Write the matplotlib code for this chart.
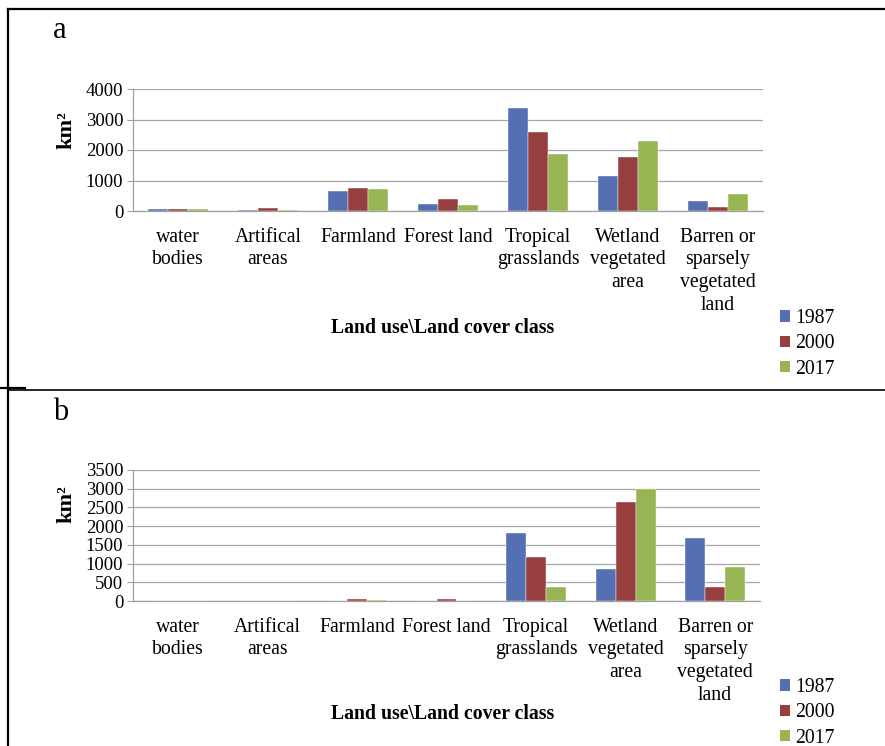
import matplotlib
matplotlib.use("Agg")
import matplotlib.pyplot as plt
import numpy as np
from matplotlib.lines import Line2D
from matplotlib.patches import Patch

categories = ["water\nbodies", "Artifical\nareas", "Farmland", "Forest land",
              "Tropical\ngrasslands", "Wetland\nvegetated\narea",
              "Barren or\nsparsely\nvegetated\nland"]
years = ["1987", "2000", "2017"]

# panel a values (km2)
a_1987 = [50, 45, 655, 230, 3390, 1140, 315]
a_2000 = [50, 100, 745, 405, 2590, 1770, 140]
a_2017 = [50, 45, 710, 200, 1880, 2305, 570]

# panel b values (km2)
b_1987 = [0, 0, 0, 0, 1810, 850, 1690]
b_2000 = [0, 0, 65, 65, 1185, 2635, 385]
b_2017 = [0, 0, 30, 0, 385, 2990, 910]

a_ticks = [0, 1000, 2000, 3000, 4000]
b_ticks = [0, 500, 1000, 1500, 2000, 2500, 3000, 3500]

colors = ["#5470B2", "#963F3E", "#97B553"]

plt.rcParams['font.family'] = ['Liberation Serif', 'DejaVu Serif']

W, H = 885, 746
fig = plt.figure(figsize=(W / 100, H / 100), dpi=100)

def fx(px):
    return px / W

def fy(py):
    return 1 - py / H

FS = 14.2
YFS = 13.5

def draw_panel(left, right, top, bottom, series, ticks, letter, letter_y,
               ylab_y, xlab_y, leg_y):
    ax = fig.add_axes([fx(left), fy(bottom), fx(right - left), fy(top) - fy(bottom)])
    x = np.arange(len(categories))
    bw = 1 / 4.5
    for i, (vals, c, yr) in enumerate(zip(series, colors, years)):
        ax.bar(x + (i - 1) * bw, vals, width=bw, color=c, edgecolor="white",
               linewidth=0.3, zorder=3, label=yr)
    ax.set_xlim(-0.5, len(categories) - 0.5)
    ax.set_ylim(ticks[0], ticks[-1])
    ax.set_yticks(ticks)
    ax.set_yticklabels([str(t) for t in ticks], fontsize=YFS)
    ax.set_xticks(x)
    ax.set_xticklabels(categories, fontsize=FS, linespacing=1.27)
    ax.tick_params(axis="x", length=0, pad=12)
    ax.tick_params(axis="y", length=4, color="#A0A0A0", width=0.8, pad=3)
    ax.grid(axis="y", color="#A6A6A6", linewidth=0.9, zorder=0)
    for s in ["top", "right"]:
        ax.spines[s].set_visible(False)
    for s in ["left", "bottom"]:
        ax.spines[s].set_color("#A0A0A0")
        ax.spines[s].set_linewidth(0.9)
    fig.text(fx(53), fy(letter_y), letter, fontsize=22, ha="left", va="center")
    fig.text(fx(66), fy(ylab_y), "km²", fontsize=16, fontweight="bold",
             rotation=90, ha="center", va="center")
    fig.text(fx(443), fy(xlab_y), "Land use\\Land cover class", fontsize=FS,
             fontweight="bold", ha="center", va="center")
    handles = [Patch(facecolor=c, edgecolor="none") for c in colors]
    fig.legend(handles, years, loc="upper left",
               bbox_to_anchor=(fx(780), fy(leg_y)), frameon=False,
               fontsize=FS, handlelength=0.5, handleheight=0.5,
               handletextpad=0.25, labelspacing=0.32, borderpad=0,
               borderaxespad=0)
    return ax

draw_panel(133, 763, 89, 211, [a_1987, a_2000, a_2017], a_ticks, "a", 31,
           130, 328, 309)
draw_panel(133, 760, 470, 601, [b_1987, b_2000, b_2017], b_ticks, "b", 412,
           504, 714, 678)

# table borders
lw = 1.6
fig.add_artist(Line2D([fx(8), 1.0], [fy(9), fy(9)], color="black", lw=lw,
                      transform=fig.transFigure))
fig.add_artist(Line2D([fx(8), fx(8)], [fy(9), 0.0], color="black", lw=lw,
                      transform=fig.transFigure))
fig.add_artist(Line2D([fx(8), 1.0], [fy(390), fy(390)], color="black", lw=1.2,
                      transform=fig.transFigure))
fig.add_artist(Line2D([0.0, fx(25)], [fy(388), fy(388)], color="black", lw=1.6,
                      transform=fig.transFigure))

fig.savefig("out.png", dpi=100)
